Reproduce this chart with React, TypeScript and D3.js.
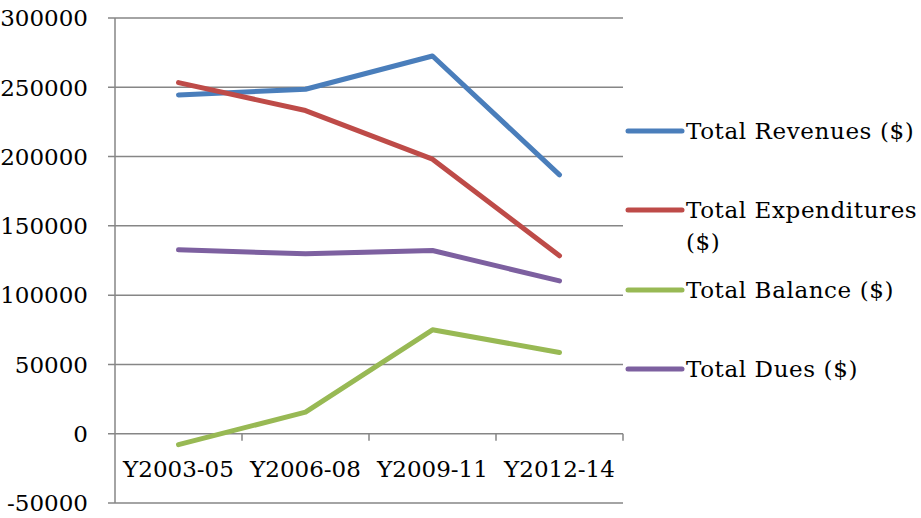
import React from "react";
import * as d3 from "d3";

const categories = ["Y2003-05", "Y2006-08", "Y2009-11", "Y2012-14"];
const revenues = [244500, 248600, 272600, 186800];
const expenditures = [253400, 233200, 198100, 128400];
const balance = [-7900, 15600, 75000, 58600];
const dues = [132700, 129800, 132200, 110300];
const yTicks = [-50000, 0, 50000, 100000, 150000, 200000, 250000, 300000];

const seriesNames = ["Total Revenues ($)", "Total Expenditures ($)", "Total Balance ($)", "Total Dues ($)"];
const seriesColors = ["#4a7ebb", "#be4b48", "#98b954", "#7d60a0"];

const W = 921;
const H = 518;
const FONT = "'DejaVu Serif', serif";
const FS = 23;

export default function App() {
  const x = d3.scaleBand<string>().domain(categories).range([115, 623]);
  const y = d3.scaleLinear().domain([-50000, 300000]).range([503, 18]);
  const series = [revenues, expenditures, balance, dues];
  const line = d3
    .line<number>()
    .x((_, i) => (x(categories[i]) as number) + x.bandwidth() / 2)
    .y((d) => y(d));

  const legendY = [131, 210, 290, 369];
  const grid = "#868686";

  return (
    <svg width={W} height={H} style={{ position: "absolute", left: 0, top: 0, background: "#fff" }}>
      {yTicks.map((t) => (
        <g key={t}>
          <line x1={108} x2={623} y1={y(t)} y2={y(t)} stroke={grid} strokeWidth={1.5} />
          <text x={88} y={y(t)} dy="0.36em" textAnchor="end" fontFamily={FONT} fontSize={FS} fill="#000">
            {t}
          </text>
        </g>
      ))}
      <line x1={115} x2={115} y1={y(300000)} y2={y(-50000)} stroke={grid} strokeWidth={1.5} />
      {categories.map((c) => (
        <line key={"t" + c} x1={(x(c) as number) + x.bandwidth()} x2={(x(c) as number) + x.bandwidth()} y1={y(0)} y2={y(0) + 7} stroke={grid} strokeWidth={1.5} />
      ))}
      {categories.map((c) => (
        <text key={c} x={(x(c) as number) + x.bandwidth() / 2} y={477} textAnchor="middle" fontFamily={FONT} fontSize={FS} fill="#000">
          {c}
        </text>
      ))}
      {series.map((s, i) => (
        <path key={i} d={line(s) || ""} fill="none" stroke={seriesColors[i]} strokeWidth={5} strokeLinecap="round" strokeLinejoin="round" />
      ))}
      {seriesNames.map((n, i) => (
        <g key={n}>
          <line x1={628} x2={682} y1={legendY[i]} y2={legendY[i]} stroke={seriesColors[i]} strokeWidth={5} strokeLinecap="round" />
          {i === 1 ? (
            <text x={686} y={legendY[i] + 8} fontFamily={FONT} fontSize={FS} letterSpacing={0.6} fill="#000">
              <tspan x={686}>Total Expenditures</tspan>
              <tspan x={686} dy={32}>($)</tspan>
            </text>
          ) : (
            <text x={686} y={legendY[i] + 8} fontFamily={FONT} fontSize={FS} letterSpacing={0.6} fill="#000">
              {n}
            </text>
          )}
        </g>
      ))}
    </svg>
  );
}
